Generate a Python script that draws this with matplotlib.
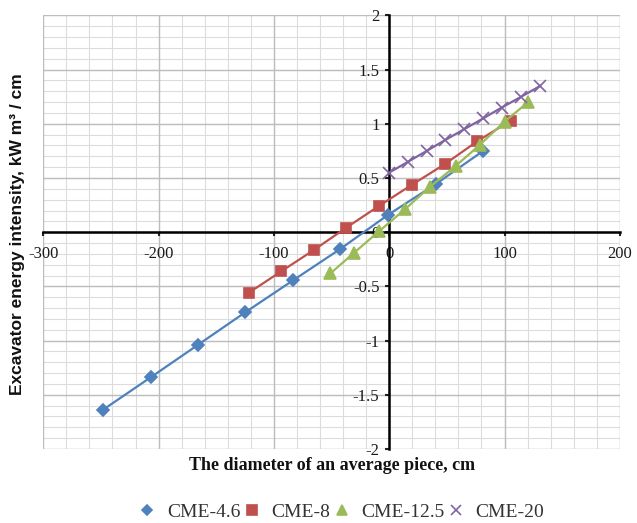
import numpy as np
import matplotlib
matplotlib.use("Agg")
import matplotlib.pyplot as plt
from matplotlib.lines import Line2D
from matplotlib.ticker import MultipleLocator, FuncFormatter

plt.rcParams['axes.unicode_minus'] = False

# data
x_46 = [-248.5, -207, -166, -125, -83.5, -42.5, -1, 40.5, 81.5]
y_46 = [-1.64, -1.34, -1.04, -0.74, -0.445, -0.155, 0.16, 0.445, 0.75]
x_8 = [-122, -93.5, -65.5, -37.5, -8.5, 20, 48.5, 76.5, 105.5]
y_8 = [-0.56, -0.36, -0.165, 0.04, 0.245, 0.44, 0.63, 0.84, 1.03]
x_125 = [-51, -30.5, -8.7, 13.5, 35.5, 57.5, 78.5, 100, 120.5]
y_125 = [-0.38, -0.19, 0.01, 0.21, 0.42, 0.61, 0.805, 1.02, 1.2]
x_20 = [0, 16.3, 32.5, 48.5, 65, 81.5, 97.5, 114.5, 131]
y_20 = [0.55, 0.65, 0.75, 0.85, 0.95, 1.05, 1.15, 1.25, 1.35]

names = ["CME-4.6", "CME-8", "CME-12.5", "CME-20"]
colors = ["#4F81BD", "#C0504D", "#9BBB59", "#8064A2"]
markers = ["D", "s", "^", "x"]
msizes = [6, 7.5, 8, 8]

fig = plt.figure(figsize=(6.37, 5.23), dpi=100)
ax = fig.add_axes([0.068, 0.1415, 0.905, 0.829])

series = [(x_46, y_46), (x_8, y_8), (x_125, y_125), (x_20, y_20)]
for (xs, ys), c, m, ms in zip(series, colors, markers, msizes):
    ax.plot(xs, ys, color=c, lw=1.6, marker=m, ms=ms, mew=1.2, zorder=3)

ax.set_xlim(-300, 200)
ax.set_ylim(-2, 2)
ax.xaxis.set_major_locator(MultipleLocator(100))
ax.yaxis.set_major_locator(MultipleLocator(0.5))
fmt = FuncFormatter(lambda v, p: "{:g}".format(v))
ax.xaxis.set_major_formatter(fmt)
ax.yaxis.set_major_formatter(fmt)

# minor grid drawn by hand so it stays under the tick labels
for gx in np.arange(-300, 201, 20):
    ax.axvline(gx, color="#DCDCDC", lw=0.8, zorder=0.1)
for gy in np.arange(-2, 2.01, 0.1):
    ax.axhline(gy, color="#DCDCDC", lw=0.8, zorder=0.1)
for gx in np.arange(-300, 201, 100):
    ax.axvline(gx, color="#BDBDBD", lw=1.0, zorder=0.2)
for gy in np.arange(-2, 2.01, 0.5):
    ax.axhline(gy, color="#BDBDBD", lw=1.0, zorder=0.2)

for s in ["top", "right"]:
    ax.spines[s].set_visible(False)
ax.spines["left"].set_position(("data", 0))
ax.spines["bottom"].set_position(("data", 0))
ax.spines["left"].set_linewidth(1.8)
ax.spines["bottom"].set_linewidth(1.8)
ax.spines["left"].set_zorder(2)
ax.spines["bottom"].set_zorder(2)

ax.tick_params(which="major", direction="out", length=3, width=1.5,
               labelsize=12, colors="#222222")
ax.tick_params(axis="x", which="major", pad=7)
ax.tick_params(axis="y", which="major", pad=4)
for lab in ax.get_xticklabels() + ax.get_yticklabels():
    lab.set_fontfamily("Liberation Serif")
    lab.set_color("#1a1a1a")

fig.text(0.521, 0.109, "The diameter of an average piece, cm",
         ha="center", va="center", fontsize=13, fontweight="bold",
         family="Liberation Serif", color="#111111")
fig.text(0.028, 0.552, "Excavator energy intensity, kW m³ / cm",
         ha="center", va="center", rotation=90, fontsize=12.5,
         fontweight="bold", family="Liberation Sans", color="#111111")

handles = [Line2D([], [], color=c, marker=m, ls="none", ms=ms * 0.9, mew=1.2)
           for c, m, ms in zip(colors, markers, msizes)]
fig.legend(handles, names, loc="center", bbox_to_anchor=(0.537, 0.021),
           ncol=4, frameon=False, handlelength=0.8, handletextpad=0.6,
           columnspacing=0.2, prop={"family": "Liberation Serif", "size": 14},
           labelcolor="#333333")

plt.savefig("out.png", dpi=100)
